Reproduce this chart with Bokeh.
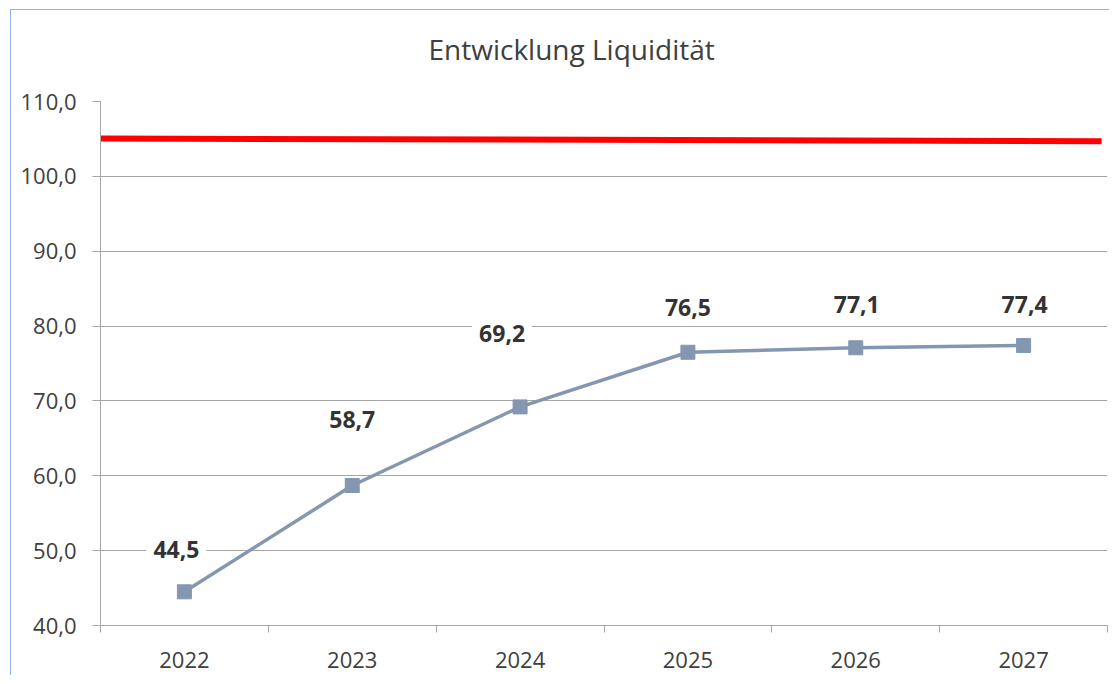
from bokeh.plotting import figure
from bokeh.models import ColumnDataSource, FixedTicker, Range1d, Title
from bokeh.core.properties import value
from bokeh.embed import file_html
from bokeh.resources import INLINE

# ---- data ----
title_text = "Entwicklung Liquidität"
years = ["2022", "2023", "2024", "2025", "2026", "2027"]
liquidity = [44.5, 58.7, 69.2, 76.5, 77.1, 77.4]
label_texts = ["44,5", "58,7", "69,2", "76,5", "77,1", "77,4"]
red_line_values = [105.06, 104.7]   # reference level at start / end of the chart
y_ticks = [40, 50, 60, 70, 80, 90, 100, 110]

# ---- label placement (style, pixels relative to the points) ----
label_dx = [-8, 0, -18, 0, 1, 1]
label_dy = [-42, -66, -73, -45, -43, -41]

FONT = "Open Sans"
TXT = "#404040"
GRID = "#a6a6a6"

n = len(years)
xs = [i + 0.5 for i in range(n)]

p = figure(
    width=1099, height=666, title=None,
    x_range=Range1d(0, n), y_range=Range1d(y_ticks[0], y_ticks[-1]),
    output_backend="svg", toolbar_location=None,
    min_border_left=89, min_border_right=3, min_border_top=91, min_border_bottom=51,
)
p.styles = {"border-left": "1px solid #8eb4e3", "border-top": "1px solid #8eb4e3",
            "margin-left": "10px", "margin-top": "9px"}
p.outline_line_color = None
p.background_fill_color = "white"
p.border_fill_color = "white"

# spacer between frame and title, then the title itself (stacked outward)
p.add_layout(Title(text=" ", text_font_size="1px", standoff=14), "above")
p.add_layout(Title(text=title_text, text_font=FONT, text_font_size="28px",
                   text_font_style="normal", text_color=TXT,
                   align="left", offset=328, standoff=34), "above")

# x axis
p.xaxis.ticker = FixedTicker(ticks=xs, minor_ticks=list(range(n + 1)))
p.xaxis.major_label_overrides = {x: y for x, y in zip(xs, years)}
p.xaxis.major_tick_line_color = None
p.xaxis.major_tick_out = 0
p.xaxis.major_tick_in = 0
p.xaxis.minor_tick_out = 7
p.xaxis.minor_tick_in = 0
p.xaxis.minor_tick_line_color = GRID
p.xaxis.axis_line_color = GRID
p.xaxis.major_label_standoff = 19
p.xaxis.major_label_text_font = FONT
p.xaxis.major_label_text_font_size = "22px"
p.xaxis.major_label_text_color = TXT
p.xgrid.grid_line_color = None

# y axis
p.yaxis.ticker = FixedTicker(ticks=y_ticks)
p.yaxis.major_label_overrides = {t: f"{t:.1f}".replace(".", ",") for t in y_ticks}
p.yaxis.major_tick_out = 8
p.yaxis.major_tick_in = 0
p.yaxis.minor_tick_line_color = None
p.yaxis.major_tick_line_color = GRID
p.yaxis.axis_line_color = GRID
p.yaxis.major_label_standoff = 16
p.yaxis.major_label_text_font = FONT
p.yaxis.major_label_text_font_size = "22px"
p.yaxis.major_label_text_color = TXT
p.ygrid.grid_line_color = GRID
p.ygrid.ticker = FixedTicker(ticks=y_ticks)

# red reference line across the chart
p.line(x=[p.x_range.start, p.x_range.end - 0.035], y=red_line_values,
       line_color="#ff0000", line_width=6)

# liquidity series
src = ColumnDataSource(dict(x=xs, y=liquidity, label=label_texts, dx=label_dx, dy=label_dy))
p.line("x", "y", source=src, line_color="#8497b0", line_width=3.5)
p.scatter("x", "y", source=src, marker="square", size=14,
          fill_color="#8497b0", line_color="#8497b0")

p.text("x", "y", text="label", source=src, x_offset="dx", y_offset="dy",
       text_font=value(FONT), text_font_size="23px", text_font_style="bold",
       text_color="#333333", text_align="center", text_baseline="middle",
       background_fill_color="white", padding=7)

open("out.html", "w").write(file_html(p, INLINE))
